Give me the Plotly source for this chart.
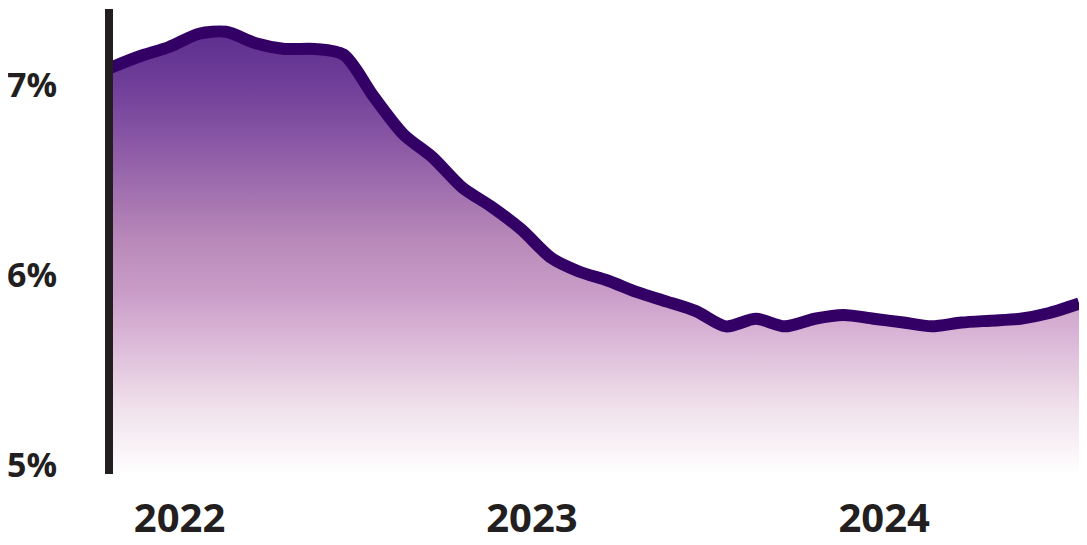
import plotly.graph_objects as go
import pandas as pd

# monthly rate, Nov 2021 .. Aug 2024
months = pd.date_range('2021-11-01', '2024-08-01', freq='MS')
rate = [7.09, 7.15, 7.20, 7.27, 7.28, 7.22, 7.19, 7.19, 7.16, 6.94,
        6.74, 6.62, 6.46, 6.36, 6.24, 6.09, 6.02, 5.97, 5.91, 5.86,
        5.81, 5.73, 5.77, 5.73, 5.77, 5.79, 5.77, 5.75, 5.73, 5.75,
        5.76, 5.77, 5.80, 5.85]

year_ticks = ['2022-01-12', '2023-01-12', '2024-01-12']
year_text = ['2022', '2023', '2024']
pct_ticks = [5, 6, 7]
pct_text = ['5%', '6%', '7%']

fig = go.Figure()
fig.add_trace(go.Scatter(x=months, y=rate, mode='lines',
                         line=dict(color='#330066', width=12, shape='spline', smoothing=0.8),
                         fill='tozeroy',
                         fillgradient=dict(type='vertical', start=4.95, stop=7.3,
                                           colorscale=[[0, '#ffffff'], [0.166, '#eedde9'],
                                                       [0.30, '#dbb8d8'], [0.41, '#c99cc8'],
                                                       [0.52, '#b98ab9'], [0.73, '#8d5aa6'],
                                                       [0.87, '#703f99'], [1, '#5c2d8e']]),
                         hoverinfo='skip'))

# page body has an 8px margin, so the figure is a bit smaller than the window
fig.update_layout(width=1079, height=537,
                  plot_bgcolor='white', paper_bgcolor='white',
                  showlegend=False,
                  font=dict(family='Open Sans', color='#231f20'),
                  margin=dict(l=105, r=2, t=1, b=71, pad=0))

fig.update_xaxes(range=['2021-11-04', '2024-08-07'],
                 tickvals=year_ticks, ticktext=year_text,
                 tickfont=dict(size=40, weight=700),
                 showgrid=False, zeroline=False, showline=False,
                 ticks='', ticklabelstandoff=17, automargin=False)

fig.update_yaxes(range=[4.953, 7.40],
                 tickvals=pct_ticks, ticktext=pct_text,
                 tickfont=dict(size=34, weight=700),
                 showgrid=False, zeroline=False,
                 showline=True, linecolor='#231f20', linewidth=8,
                 ticks='', ticklabelstandoff=41, automargin=False)

fig.write_html('out.html')
